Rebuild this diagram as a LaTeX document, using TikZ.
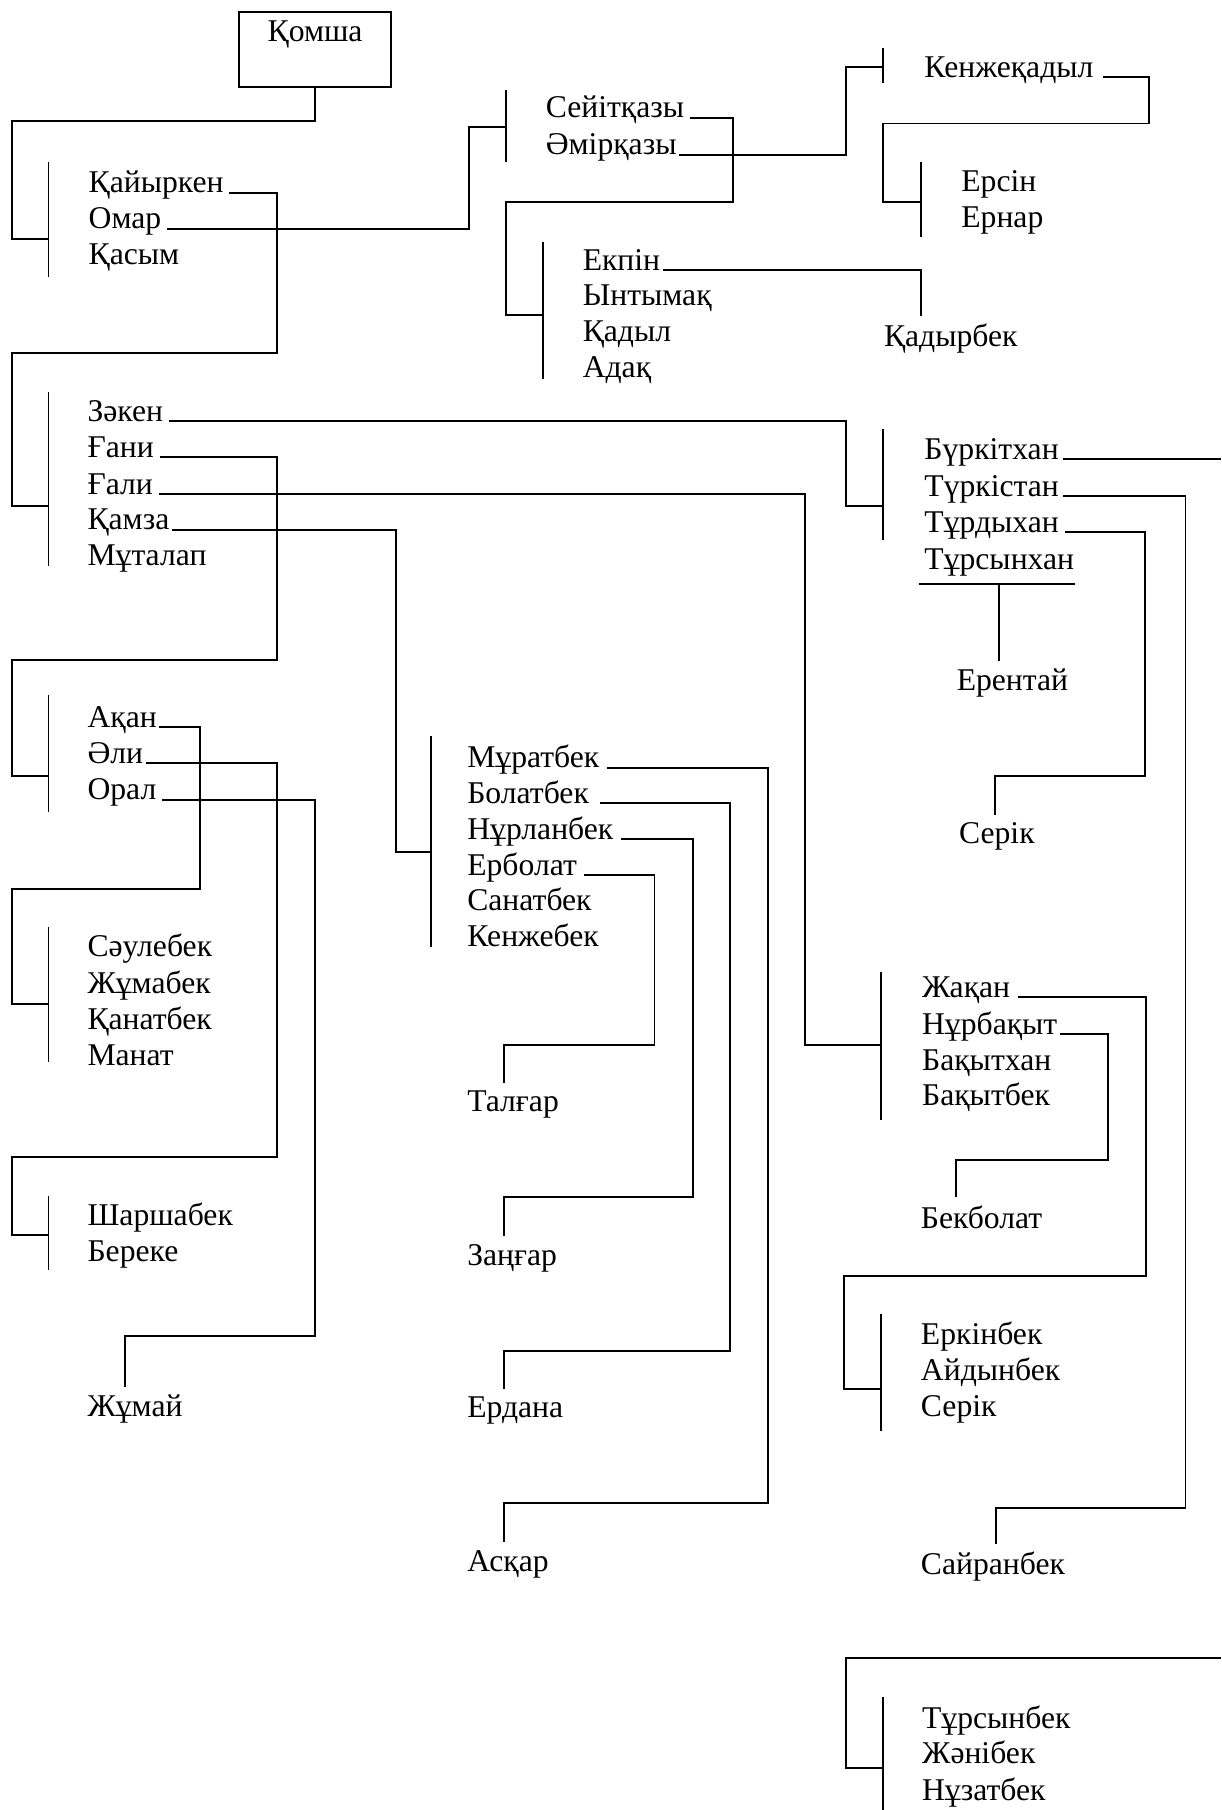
\documentclass[tikz,border=0pt]{standalone}
\usepackage{fontspec}
\setmainfont{Liberation Serif}
\usetikzlibrary{positioning,calc}

\begin{document}
\begin{tikzpicture}[x=0.025cm, y=-0.025cm, line width=1.2pt,
                    person/.style={anchor=base west, inner sep=0pt, font=\fontsize{19.5}{23}\selectfont},
                    child/.style={person, outer ysep=5pt},
                    root/.style={draw, inner sep=0pt, minimum width=3.3cm, text height=0.65cm, text depth=0.975cm,
                                 anchor=base, font=\fontsize{19.5}{23}\selectfont}]
    \useasboundingbox (0,0) rectangle (1058,1568);

    % root
    \node[root] (komsha) at (273,36) {Қомша};

    % sons of the root
    \node[person] (kaiyrken) at (76,167) {Қайыркен};
    \node[person] (omar) at (76,198) {Омар};
    \node[person] (kasym) at (76,229) {Қасым};
    \draw (42,140) -- (42,240); \coordinate (jA) at (42,207);

    % Omar's line
    \node[person] (seitkazy) at (472,102) {Сейітқазы};
    \node[person] (amirkazy) at (472,134) {Әмірқазы};
    \draw (438,78) -- (438,140); \coordinate (jB) at (438,110);

    \node[person] (kenzhekadyl) at (800,67) {Кенжеқадыл};
    \draw (765,42) -- (765,72); \coordinate (jC) at (765,58);

    \node[person] (ersin) at (832,166) {Ерсін};
    \node[person] (ernar) at (832,197) {Ернар};
    \draw (798,140) -- (798,205); \coordinate (jD) at (798,175);

    \node[person] (ekpin) at (504,234) {Екпін};
    \node[person] (yntymak) at (504,265) {Ынтымақ};
    \node[person] (kadyl) at (504,296) {Қадыл};
    \node[person] (adak) at (504,327) {Адақ};
    \draw (470,210) -- (470,328); \coordinate (jE) at (470,273);
    \node[child] (kadyrbek) at (765,300) {Қадырбек};

    % Kaiyrken's line
    \node[person] (zaken) at (75,365) {Зәкен};
    \node[person] (gani) at (75,396) {Ғани};
    \node[person] (gali) at (75,428) {Ғали};
    \node[person] (kamza) at (75,459) {Қамза};
    \node[person] (mutalap) at (75,490) {Мұталап};
    \draw (42,340) -- (42,490); \coordinate (jF) at (42,438);

    \node[person] (burkitkhan) at (800,398) {Бүркітхан};
    \node[person] (turkistan) at (800,430) {Түркістан};
    \node[person] (turdykhan) at (800,461) {Тұрдыхан};
    \node[person] (tursynkhan) at (800,493) {Тұрсынхан};
    \draw (765,372) -- (765,468); \coordinate (jG) at (765,438);
    \node[child] (erentai) at (828,598) {Ерентай};
    \node[child] (serik) at (830,731) {Серік};
    \node[child] (sairanbek) at (797,1364) {Сайранбек};

    \node[person] (akan) at (75,630) {Ақан};
    \node[person] (ali) at (75,661) {Әли};
    \node[person] (oral) at (75,693) {Орал};
    \draw (42,602) -- (42,703); \coordinate (jH) at (42,672);

    \node[person] (muratbek) at (404,665) {Мұратбек};
    \node[person] (bolatbek) at (404,696) {Болатбек};
    \node[person] (nurlanbek) at (404,727) {Нұрланбек};
    \node[person] (erbolat) at (404,758) {Ерболат};
    \node[person] (sanatbek) at (404,789) {Санатбек};
    \node[person] (kenzhebek) at (404,820) {Кенжебек};
    \draw (373,638) -- (373,820); \coordinate (jI) at (373,738);

    \node[person] (saulebek) at (75,829) {Сәулебек};
    \node[person] (zhumabek) at (75,861) {Жұмабек};
    \node[person] (kanatbek) at (75,892) {Қанатбек};
    \node[person] (manat) at (75,923) {Манат};
    \draw (42,803) -- (42,920); \coordinate (jJ) at (42,870);

    \node[person] (sharshabek) at (75,1062) {Шаршабек};
    \node[person] (bereke) at (75,1093) {Береке};
    \draw (42,1036) -- (42,1100); \coordinate (jK) at (42,1070);
    \node[child] (zhumai) at (75,1227) {Жұмай};

    \node[child] (talgar) at (404,963) {Талғар};
    \node[child] (zangar) at (404,1096) {Заңғар};
    \node[child] (erdana) at (404,1228) {Ердана};
    \node[child] (askar) at (404,1361) {Асқар};

    \node[person] (zhakan) at (798,864) {Жақан};
    \node[person] (nurbakyt) at (798,896) {Нұрбақыт};
    \node[person] (bakytkhan) at (798,927) {Бақытхан};
    \node[person] (bakytbek) at (798,958) {Бақытбек};
    \draw (763,842) -- (763,970); \coordinate (jL) at (763,905);
    \node[child] (bekbolat) at (797,1064) {Бекболат};

    \node[person] (erkinbek) at (797,1165) {Еркінбек};
    \node[person] (aidynbek) at (797,1196) {Айдынбек};
    \node[person] (serik2) at (797,1227) {Серік};
    \draw (763,1138) -- (763,1240); \coordinate (jM) at (763,1203);

    \node[person] (tursynbek) at (798,1497) {Тұрсынбек};
    \node[person] (zhanibek) at (798,1528) {Жәнібек};
    \node[person] (nuzatbek) at (798,1560) {Нұзатбек};
    \draw (765,1470) -- (765,1568); \coordinate (jN) at (765,1532);

    % page edge ends
    \coordinate (edgeA) at (1058,398);
    \coordinate (edgeB) at (1058,1436);

    % connectors
    \draw (komsha.south) |- (10,105) |- (jA);
    \draw ([xshift=3pt]kaiyrken.base east) -| (240,306) -| (10,438) -- (jF);
    \draw ([xshift=3pt]omar.base east) -| (406,110) -- (jB);
    \draw ([xshift=3pt]seitkazy.base east) -| (635,175) -| (438,273) -- (jE);
    \draw ([xshift=1pt]amirkazy.base east) -| (733,58) -- (jC);
    \draw ([xshift=5pt]kenzhekadyl.base east) -| (995,107) -| (765,175) -- (jD);
    \draw ([xshift=1pt]ekpin.base east) -| (798,0 |- kadyrbek.north);

    \draw ([xshift=3pt]zaken.base east) -| (733,438) -- (jG);
    \draw ([xshift=3pt]gani.base east) -| (240,572) -| (10,672) -- (jH);
    \draw ([xshift=3pt]gali.base east) -| (697,905) -- (jL);
    \draw ([xshift=1pt]kamza.base east) -| (343,738) -- (jI);

    \draw ([xshift=2pt]burkitkhan.base east) -- (edgeA);
    \draw ([xshift=2pt]turkistan.base east) -| (1027,1306) -| (863,0 |- sairanbek.north);
    \draw ([xshift=3pt]turdykhan.base east) -| (992,672) -| (862,0 |- serik.north);
    \coordinate (tsu) at ([yshift=-0.33cm]tursynkhan.base);
    \draw ([xshift=-3pt, yshift=-0.33cm]tursynkhan.base west) -- ([yshift=-0.33cm]tursynkhan.base east);
    \draw (tsu) -- (tsu |- erentai.north);

    \draw ([xshift=1pt]akan.base east) -| (173,770) -| (10,870) -- (jJ);
    \draw ([xshift=1pt]ali.base east) -| (240,1002) -| (10,1070) -- (jK);
    \draw ([xshift=3pt]oral.base east) -| (273,1157) -| (108,0 |- zhumai.north);

    \draw ([xshift=4pt]muratbek.base east) -| (665,1302) -| (437,0 |- askar.north);
    \draw ([xshift=6pt]bolatbek.base east) -| (632,1170) -| (437,0 |- erdana.north);
    \draw ([xshift=4pt]nurlanbek.base east) -| (600,1037) -| (437,0 |- zangar.north);
    \draw ([xshift=4pt]erbolat.base east) -| (567,905) -| (437,0 |- talgar.north);

    \draw ([xshift=4pt]zhakan.base east) -| (993,1105) -| (731,1203) -- (jM);
    \draw ([xshift=1pt]nurbakyt.base east) -| (960,1005) -| (828,0 |- bekbolat.north);
    \draw (edgeB) -| (733,1532) -- (jN);
\end{tikzpicture}
\end{document}
